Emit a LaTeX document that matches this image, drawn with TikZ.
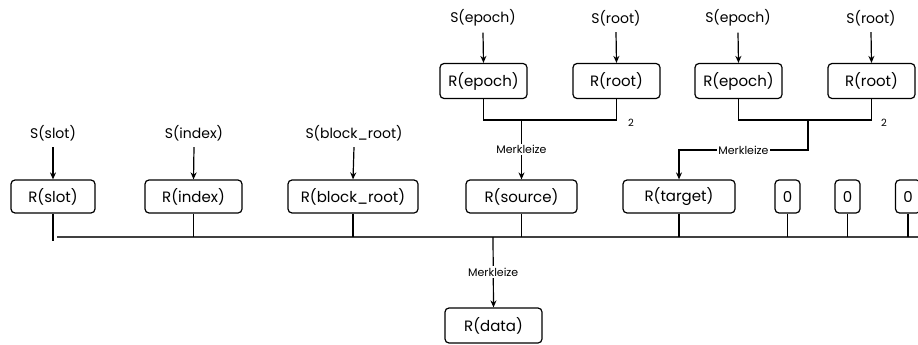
\documentclass[tikz,border=0pt]{standalone}
\usepackage{fontspec}
\setmainfont{Poppins}
\usetikzlibrary{arrows.meta}
\tikzset{
  box/.style={draw, rounded corners=4pt, line width=1.2pt, minimum height=33pt, inner sep=2pt, font=\fontsize{15}{17}\selectfont},
  tbox/.style={box, minimum height=35pt, minimum width=87pt},
  lbl/.style={font=\fontsize{14}{16}\selectfont, inner sep=1pt},
  arr/.style={-{Stealth[length=7pt,width=6pt]}, line width=1.2pt},
  ln/.style={line width=1.2pt},
  bus/.style={line width=1.3pt, black!75},
  small/.style={font=\fontsize{11}{13}\selectfont, fill=white, inner sep=1.5pt},
  num/.style={font=\fontsize{10}{11}\selectfont, inner sep=1pt}
}
\begin{document}
\begin{tikzpicture}[x=1pt,y=-1pt]
\clip (0,0) rectangle (918,345);
\fill[white] (0,0) rectangle (918,345);
% second row boxes
\node[box, minimum width=84pt] (rslot) at (53,196.5) {R(slot)};
\node[box, minimum width=97pt] (rindex) at (193.5,196.5) {R(index)};
\node[box, minimum width=130pt] (rblock) at (353,196.5) {R(block\_root)};
\node[box, minimum width=111pt] (rsource) at (521.5,196.5) {R(source)};
\node[box, minimum width=112pt] (rtarget) at (679,196.5) {R(target)};
\node[box, minimum width=25pt] (z1) at (787.5,196.5) {0};
\node[box, minimum width=25pt] (z2) at (847.5,196.5) {0};
\node[box, minimum width=25pt] (z3) at (908,196.5) {0};
\node[box, minimum width=97pt, minimum height=35pt] (rdata) at (493.5,325.5) {R(data)};
% top row boxes
\node[tbox] (re1) at (483.5,81) {R(epoch)};
\node[tbox] (rr1) at (616.5,81) {R(root)};
\node[tbox] (re2) at (738.5,81) {R(epoch)};
\node[tbox] (rr2) at (871.5,81) {R(root)};
% S labels
\node[lbl] (se1) at (483,18) {S(epoch)};
\node[lbl] (sr1) at (616,18) {S(root)};
\node[lbl] (se2) at (738,18) {S(epoch)};
\node[lbl] (sr2) at (871,18) {S(root)};
\node[lbl] (ss) at (53,133) {S(slot)};
\node[lbl] (si) at (194,133) {S(index)};
\node[lbl] (sb) at (354,133) {S(block\_root)};
% S arrows
\foreach \a/\b in {se1/re1, sr1/rr1, se2/re2, sr2/rr2, ss/rslot, si/rindex, sb/rblock}
  \draw[arr] ([yshift=-5pt]\a.south) -- (\b.north);
% top group 1
\coordinate (j1) at (0,120);
\draw[ln] (re1.south) |- (rr1.south |- j1) -- (rr1.south);
\node[num] (two1) at (631,123) {2};
\draw[arr] (rsource.north |- j1) -- node[small]{Merkleize} (rsource.north);
% top group 2
\draw[ln] (re2.south) |- (rr2.south |- j1) -- (rr2.south);
\node[num] (two2) at (884,123) {2};
\coordinate (m2) at (808,120);
\coordinate (k2) at (808,150);
\draw[arr] (m2) -- (k2) -| node[pos=0.25, small]{Merkleize} (rtarget.north);
% main bus
\coordinate (busL) at (57,237);
\coordinate (busR) at (918,237);
\draw[bus] (busL) -- (busR);
\draw[ln] (rslot.south) -- ++(0,27);
\foreach \n in {rindex, rblock, rsource, rtarget, z1, z2, z3}
  \draw[ln] (\n.south) -- (\n.south |- busL);
\coordinate (d) at (493,237);
\draw[arr] (d) -- node[small]{Merkleize} (rdata.north);
\end{tikzpicture}
\end{document}
